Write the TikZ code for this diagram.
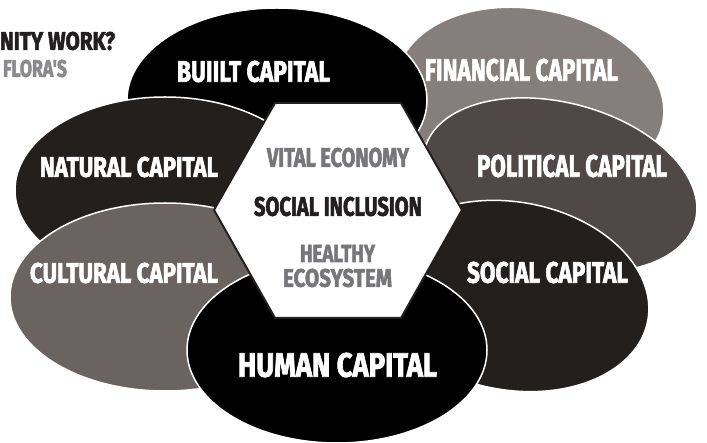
\documentclass[tikz,border=0pt]{standalone}
\usepackage{fontspec}
\usepackage{graphicx}
\usetikzlibrary{shapes.geometric}
\newfontfamily\imp{Fira Sans}[FakeBold=2.5]
\newcommand\fitlbl[3]{\resizebox{#1pt}{#2pt}{\imp\bfseries #3}}
\definecolor{cblack}{HTML}{000000}
\definecolor{cdark}{HTML}{231F1C}
\definecolor{cfin}{HTML}{857E7B}
\definecolor{cpol}{HTML}{504846}
\definecolor{ccul}{HTML}{6B6360}
\definecolor{hgray}{HTML}{77777B}
\definecolor{htext}{HTML}{231F20}
\definecolor{tgray}{HTML}{8A8A8D}
\tikzset{
  capell/.style={ellipse, draw=white, line width=1.5pt, inner sep=0pt, outer sep=0pt},
  lab/.style={inner sep=0pt, outer sep=0pt, text=white},
  hexlab/.style={inner sep=0pt, outer sep=0pt},
  hexshape/.style={draw=htext, fill=white, line width=2pt, line join=miter}
}
\begin{document}
\begin{tikzpicture}[x=1pt,y=-1pt]
\useasboundingbox (0,0) rectangle (707,443);
\fill[white] (0,0) rectangle (707,443);
% ellipses, back to front
\node[capell, fill=cfin, minimum width=270pt, minimum height=178pt, rotate=-10] (fin) at (530,98) {};
\node[capell, fill=cblack, minimum width=300pt, minimum height=184pt] (built) at (277,100) {};
\node[capell, fill=cdark, minimum width=300pt, minimum height=186pt] (nat) at (165,190) {};
\node[capell, fill=ccul, minimum width=310pt, minimum height=188pt] (cul) at (165,297) {};
\node[capell, fill=cpol, minimum width=280pt, minimum height=164pt, rotate=-15] (pol) at (560,185) {};
\node[capell, fill=cdark, minimum width=276pt, minimum height=188pt, rotate=-10] (soc) at (512,296) {};
\node[capell, fill=cblack, minimum width=300pt, minimum height=186pt] (hum) at (337,350) {};
% hexagon
\draw[hexshape] (275,103) coordinate (h1) -- (401,103) coordinate (h2) -- (462,210) coordinate (h3)
  -- (401,318) coordinate (h4) -- (275,318) coordinate (h5) -- (214,210) coordinate (h6) -- cycle;
% capital labels
\node[lab] (tbuilt) at (253.5,71.5) {\fitlbl{153}{21}{BUIILT CAPITAL}};
\node[lab] (tfin) at (521.5,70) {\fitlbl{193}{22}{FINANCIAL CAPITAL}};
\node[lab] (tnat) at (129,167) {\fitlbl{178}{20}{NATURAL CAPITAL}};
\node[lab] (tpol) at (572,166) {\fitlbl{190}{22}{POLITICAL CAPITAL}};
\node[lab] (tcul) at (124,273) {\fitlbl{188}{20}{CULTURAL CAPITAL}};
\node[lab] (tsoc) at (547.5,272.5) {\fitlbl{161}{21}{SOCIAL CAPITAL}};
\node[lab] (thum) at (337.5,365) {\fitlbl{199}{24}{HUMAN CAPITAL}};
% hexagon labels
\node[hexlab, text=hgray] (tvital) at (338,157.5) {\fitlbl{142}{19}{VITAL ECONOMY}};
\node[hexlab, text=htext] (tincl) at (338,206.5) {\fitlbl{168}{19}{SOCIAL INCLUSION}};
\node[hexlab, text=hgray] (thealthy) at (337.5,253.5) {\fitlbl{75}{17}{HEALTHY}};
\node[hexlab, text=hgray] (teco) at (337.5,278) {\fitlbl{109}{18}{ECOSYSTEM}};
% top-left title fragments
\node[hexlab, text=htext] (ttitle) at (57.5,41) {\fitlbl{115}{18}{NITY WORK?}};
\node[hexlab, text=tgray] (tflora) at (35,68.5) {\fitlbl{64}{17}{FLORA'S}};
\end{tikzpicture}
\end{document}
